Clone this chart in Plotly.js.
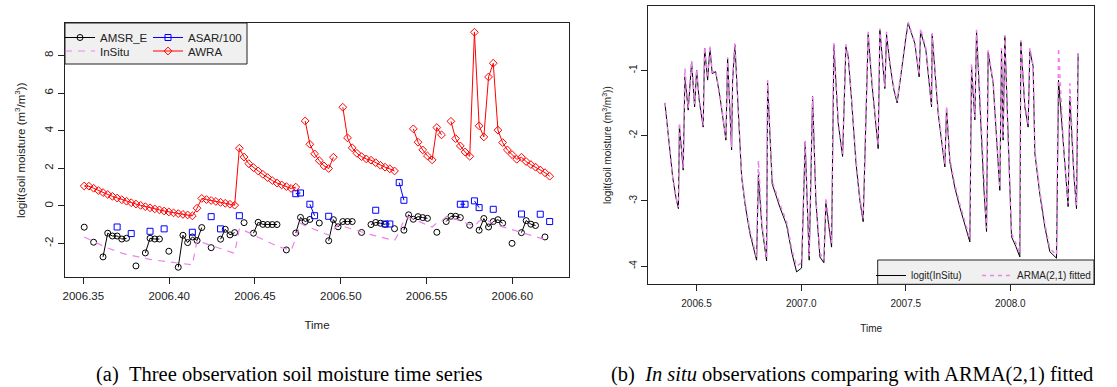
<!DOCTYPE html>
<html><head><meta charset="utf-8">
<script src="https://cdn.plot.ly/plotly-3.0.1.min.js"></script>
<style>html,body{margin:0;padding:0;background:#fff}#chart{width:1117px;height:387px}</style>
</head><body><div id="chart"></div>
<script>
// ---------- Panel (a): daily series, index = day since start ----------
const startA = 2006.3505, freqA = 365;
const dayIndex = Array.from({length:100}, (_, i) => i);
const amsrE = [-1.13,null,-1.93,null,-2.71,-1.45,-1.60,-1.60,-1.76,-1.72,
 null,-3.19,null,-2.5,-1.72,-1.76,-1.76,null,-2.41,null,
 -3.26,-1.56,-1.95,-1.65,-1.84,-1.15,null,-2.22,null,-1.77,
 -1.24,-1.54,-1.42,null,-0.89,null,-1.45,-0.87,-0.98,-0.99,
 -0.99,-0.99,null,-2.34,null,-1.44,-0.61,-0.83,-0.72,null,
 -0.91,null,-1.85,-0.73,-1.11,-0.83,-0.83,-0.83,null,-1.41,
 null,-0.99,-0.88,-0.92,-0.98,null,-1.21,null,-1.29,-0.47,
 -0.71,-0.57,-0.62,-0.66,null,-1.40,null,-0.83,-0.55,-0.55,
 -0.62,null,-1.03,null,-1.29,-0.67,-1.12,-0.83,-0.73,-0.92,
 null,-1.99,null,-1.42,-0.78,-0.97,-1.04,null,-1.65,null];
const inSitu = [-1.65,-1.78,-1.9,-2.02,-2.13,-2.24,-2.34,-2.43,-2.51,-2.58,
 -2.64,-2.7,-2.75,-2.8,-2.84,-2.88,-2.91,-2.94,-2.97,-3.0,
 -3.03,-3.06,-3.1,-3.13,-1.85,-1.93,-2.01,-2.1,-2.19,-2.28,
 -2.37,-2.45,-2.52,-1.2,-1.3,-1.42,-1.55,-1.67,-1.8,-1.92,
 -2.03,-2.13,-2.22,-2.3,-2.35,-1.75,-0.92,-1.05,-1.16,-1.26,
 -1.36,-1.45,-1.55,-1.3,-1.0,-1.08,-1.16,-1.24,-1.32,-1.4,
 -1.47,-1.53,-1.59,-1.65,-1.71,-1.77,-1.84,-1.4,-0.74,-0.6,
 -0.7,-0.8,-0.9,-1.0,-1.12,-0.9,-0.8,-0.57,-0.62,-0.7,
 -0.8,-0.9,-1.0,-1.08,-0.8,-0.74,-0.8,-0.95,-1.03,-1.11,
 -1.19,-1.27,-1.35,-1.43,-1.5,-1.58,-1.65,-1.72,-1.79,-1.85];
const asar100 = [null,null,null,null,null,null,null,-1.12,null,null,
 -1.47,null,null,null,-1.35,null,null,-1.22,null,null,
 null,null,null,-1.40,null,null,null,-0.57,null,-1.22,
 null,null,null,-0.52,null,null,null,null,null,null,
 null,null,null,null,null,0.65,0.69,null,0.09,-0.52,
 null,null,-0.55,null,null,null,null,null,null,null,
 null,null,-0.23,null,-0.96,-0.96,null,1.24,0.30,null,
 null,null,null,null,null,null,null,null,null,null,
 0.09,0.09,null,0.27,-0.09,null,null,-0.18,null,null,
 null,null,null,-0.43,null,null,null,-0.44,null,-0.83];
const awra = [1.06,1.05,0.94,0.82,0.71,0.61,0.51,0.42,0.33,0.25,
 0.17,0.10,0.03,-0.04,-0.10,-0.16,-0.21,-0.27,-0.32,-0.37,
 -0.41,-0.45,-0.48,-0.53,-0.12,0.40,0.34,0.29,0.24,0.19,
 0.14,0.09,0.04,3.07,2.6,2.25,2.04,1.86,1.68,1.51,
 1.35,1.22,1.12,1.03,0.93,1.0,null,4.52,3.28,2.77,
 2.41,2.13,1.99,2.59,null,5.25,3.62,3.09,2.80,2.62,
 2.50,2.43,2.30,2.16,2.06,1.97,1.86,null,null,null,
 4.10,3.39,2.98,2.66,2.45,4.17,3.78,null,4.5,3.58,
 3.19,2.87,2.64,9.24,4.26,3.67,6.86,7.59,4.03,3.37,
 2.98,2.73,2.48,2.59,2.36,2.2,2.06,1.91,1.77,1.58];
const tickValsA = [2006.35,2006.40,2006.45,2006.50,2006.55,2006.60];
const tickTextA = ["2006.35","2006.40","2006.45","2006.50","2006.55","2006.60"];
const yTickValsA = [-2,0,2,4,6,8];
const yTickTextA = ["-2","0","2","4","6","8"];

// ---------- Panel (b): in situ vs ARMA(2,1) fitted (vertices) ----------
const timeB = [2006.3485,2006.3676,2006.3853,2006.4011,2006.4130,2006.4178,2006.4359,2006.4441,2006.4598,2006.4761,
 2006.4904,2006.5000,2006.5124,2006.5315,2006.5382,2006.5526,2006.5636,2006.5746,2006.5908,2006.6114,
 2006.6401,2006.6482,2006.6673,2006.6721,2006.6831,2006.6974,2006.7151,2006.7309,2006.7548,2006.7868,
 2006.7954,2006.8121,2006.8346,2006.8394,2006.8614,2006.8982,2006.9302,2006.9555,2006.9780,2007.0019,
 2007.0191,2007.0382,2007.0545,2007.0703,2007.0894,2007.1085,2007.1181,2007.1453,2007.1563,2007.1769,
 2007.1979,2007.2137,2007.2247,2007.2409,2007.2615,2007.2806,2007.2964,2007.3203,2007.3380,2007.3681,
 2007.3762,2007.4001,2007.4082,2007.4240,2007.4431,2007.4589,2007.4847,2007.5005,2007.5115,2007.5292,
 2007.5435,2007.5641,2007.5707,2007.5961,2007.6233,2007.6262,2007.6549,2007.6869,2007.6950,2007.7108,
 2007.7347,2007.7586,2007.7825,2007.8064,2007.8145,2007.8303,2007.8384,2007.8542,2007.8733,2007.8862,
 2007.8939,2007.9178,2007.9498,2007.9579,2007.9656,2007.9737,2007.9881,2008.0057,2008.0263,2008.0454,
 2008.0502,2008.0693,2008.0851,2008.0932,2008.1090,2008.1171,2008.1410,2008.1649,2008.1888,2008.2208,
 2008.2304,2008.2558,2008.2763,2008.2845,2008.3036,2008.3164,2008.3241];
const logitInSitu = [-1.50,-2.1,-2.63,-2.95,-3.12,-1.85,-2.53,-1.10,-1.61,-0.87,
 -1.56,-1.0,-1.46,-1.87,-0.66,-1.15,-0.66,-1.05,-1.02,-1.4,
 -2.07,-0.82,-2.22,-1.15,-0.61,-1.5,-2.63,-3.04,-3.5,-3.91,
 -2.6,-3.4,-3.92,-1.2,-2.74,-3.1,-3.37,-3.8,-4.09,-4.03,
 -2.1,-3.91,-1.4,-3.0,-3.86,-3.95,-3.04,-3.71,-0.61,-1.81,
 -2.32,-0.64,-0.79,-1.46,-2.4,-3.0,-3.32,-0.45,-1.2,-2.2,
 -0.38,-1.28,-0.45,-0.9,-1.3,-1.5,-0.84,-0.5,-0.28,-0.45,
 -0.59,-1.1,-0.40,-0.69,-1.56,-0.45,-1.66,-2.48,-1.58,-2.4,
 -2.8,-3.1,-3.35,-3.63,-0.95,-1.76,-0.40,-1.5,-2.8,-3.47,
 -0.72,-1.2,-2.84,-0.70,-2.07,-0.48,-2.0,-3.55,-3.7,-3.86,
 -0.56,-1.56,-1.87,-0.70,-0.94,-2.27,-2.9,-3.4,-3.78,-3.88,
 -1.15,-2.3,-3.09,-1.40,-2.6,-3.12,-0.74];
const armaFitted = [-1.50,-2.1,-2.63,-2.95,-3.10,-1.80,-2.50,-0.97,-1.58,-0.85,
 -1.52,-0.98,-1.44,-1.85,-0.64,-1.12,-0.62,-1.03,-1.0,-1.38,
 -2.03,-0.80,-2.18,-1.12,-0.58,-1.48,-2.6,-3.0,-3.45,-3.86,
 -2.38,-3.35,-3.88,-1.15,-2.7,-3.05,-3.32,-3.75,-4.0,-3.95,
 -2.07,-3.85,-1.4,-2.95,-3.8,-3.9,-2.95,-3.65,-0.58,-1.78,
 -2.28,-0.6,-0.76,-1.42,-2.35,-2.95,-3.27,-0.41,-1.15,-2.15,
 -0.36,-1.25,-0.41,-0.88,-1.27,-1.47,-0.82,-0.48,-0.26,-0.43,
 -0.57,-1.07,-0.36,-0.66,-1.52,-0.43,-1.62,-2.44,-1.55,-2.35,
 -2.75,-3.05,-3.3,-3.58,-0.89,-1.72,-0.38,-1.46,-2.75,-3.42,
 -0.69,-1.17,-2.8,-0.66,-2.03,-0.46,-1.96,-3.5,-3.65,-3.8,
 -0.54,-1.52,-1.84,-0.66,-0.92,-2.23,-2.85,-3.35,-3.73,-3.83,
 -0.66,-2.25,-3.04,-1.20,-2.55,-3.07,-0.72];
const tickValsB = [2006.5,2007.0,2007.5,2008.0];
const tickTextB = ["2006.5","2007.0","2007.5","2008.0"];
const yTickValsB = [-4,-3,-2,-1];
const yTickTextB = ["-4","-3","-2","-1"];

// ---------- build ----------
const timeA = dayIndex.map(i => startA + i / freqA);
const W = 1117, H = 387;
const fx = p => p / W, fy = p => 1 - p / H;
const sans = "Liberation Sans, Arial, Helvetica, sans-serif";
const serif = "Liberation Serif, Times New Roman, serif";
const yTitle = "logit(soil moisture (m<sup>3</sup>/m<sup>3</sup>))";

const traces = [
 {x: timeA, y: amsrE, name: "AMSR_E", type: "scatter", mode: "lines+markers", connectgaps: false,
  line: {color: "black", width: 1}, marker: {symbol: "circle-open", size: 6, color: "black", line: {width: 1}},
  xaxis: "x", yaxis: "y", legend: "legend"},
 {x: timeA, y: inSitu, name: "InSitu", type: "scatter", mode: "lines",
  line: {color: "violet", width: 1.2, dash: "7px,6px"}, xaxis: "x", yaxis: "y", legend: "legend2"},
 {x: timeA, y: asar100, name: "ASAR/100", type: "scatter", mode: "lines+markers", connectgaps: false,
  line: {color: "blue", width: 1}, marker: {symbol: "square-open", size: 6, color: "blue", line: {width: 1}},
  xaxis: "x", yaxis: "y", legend: "legend3"},
 {x: timeA, y: awra, name: "AWRA", type: "scatter", mode: "lines+markers", connectgaps: false,
  line: {color: "red", width: 1}, marker: {symbol: "diamond-open", size: 6, color: "red", line: {width: 1}},
  xaxis: "x", yaxis: "y", legend: "legend4"},
 {x: timeB, y: logitInSitu, name: "logit(InSitu)", type: "scatter", mode: "lines",
  line: {color: "black", width: 1}, xaxis: "x2", yaxis: "y2", legend: "legend5"},
 {x: timeB, y: armaFitted, name: "ARMA(2,1) fitted", type: "scatter", mode: "lines",
  line: {color: "violet", width: 1.5, dash: "4px,4px"}, xaxis: "x2", yaxis: "y2", legend: "legend6"}
];

const axBase = {showgrid: false, zeroline: false, showline: true, mirror: true, linecolor: "#222", linewidth: 1,
  ticks: "outside", ticklen: 6, tickcolor: "#222", tickwidth: 1, automargin: false};

function leg(xp, yp, size) {
  return {x: fx(xp), y: fy(yp), xref: "container", yref: "container", xanchor: "left", yanchor: "top",
    bgcolor: "rgba(0,0,0,0)", borderwidth: 0, font: {size: size, family: sans, color: "#222"}, orientation: "v"};
}

const layout = {
 width: W, height: H, margin: {l: 0, r: 0, t: 0, b: 0, autoexpand: false}, paper_bgcolor: "white", plot_bgcolor: "white",
 font: {family: sans, color: "#222"},
 xaxis: Object.assign({}, axBase, {domain: [fx(65), fx(569)], range: [2006.3393, 2006.633], anchor: "y",
   tickmode: "array", tickvals: tickValsA, ticktext: tickTextA, tickfont: {size: 11.5, family: sans},
   ticklabelstandoff: 2,
   title: {text: "Time", font: {size: 11.5, family: sans}, standoff: 20}}),
 yaxis: Object.assign({}, axBase, {domain: [fy(277), fy(23)], range: [-3.78, 9.73], anchor: "x",
   tickmode: "array", tickvals: yTickValsA, ticktext: yTickTextA, tickangle: -90, tickfont: {size: 11.5, family: sans}}),
 xaxis2: Object.assign({}, axBase, {domain: [fx(648.3), fx(1094)], range: [2006.269, 2008.40], anchor: "y2",
   tickmode: "array", tickvals: tickValsB, ticktext: tickTextB, tickfont: {size: 10, family: sans},
   ticklabelstandoff: 4,
   title: {text: "Time", font: {size: 10, family: sans}, standoff: 16}}),
 yaxis2: Object.assign({}, axBase, {domain: [fy(284.3), fy(6)], range: [-4.28, -0.014], anchor: "x2",
   tickmode: "array", tickvals: yTickValsB, ticktext: yTickTextB, tickangle: -90, tickfont: {size: 10, family: sans},
   title: {text: yTitle, font: {size: 10, family: sans}, standoff: 14}}),
 showlegend: true,
 legend: leg(60, 23, 11.5),
 legend2: leg(60, 36.5, 11.5),
 legend3: leg(148, 23, 11.5),
 legend4: leg(148, 36.5, 11.5),
 legend5: leg(871, 261, 10),
 legend6: leg(977, 261, 10),
 shapes: [
  {type: "rect", xref: "paper", yref: "paper", x0: fx(65), x1: fx(247), y0: fy(64), y1: fy(23),
   fillcolor: "#f0f0f0", line: {color: "#222", width: 1}, layer: "above"},
  {type: "rect", xref: "paper", yref: "paper", x0: fx(877.7), x1: fx(1094), y0: fy(284.3), y1: fy(260),
   fillcolor: "#f0f0f0", line: {color: "#222", width: 1}, layer: "above"}
 ],
 annotations: [
  {xref: "paper", yref: "paper", x: fx(20), y: fy(150), textangle: -90, text: yTitle, showarrow: false,
   font: {size: 11.5, family: sans, color: "#222"}, xanchor: "center", yanchor: "middle"},
  {xref: "paper", yref: "paper", x: fx(289), y: fy(374), text: "(a)&nbsp;&nbsp;Three observation soil moisture time series",
   showarrow: false, font: {family: serif, size: 20.5, color: "black"}, xanchor: "center", yanchor: "middle"},
  {xref: "paper", yref: "paper", x: fx(852), y: fy(374), text: "(b)&nbsp;&nbsp;<i>In situ</i> observations comparing with ARMA(2,1) fitted",
   showarrow: false, font: {family: serif, size: 20.5, color: "black"}, xanchor: "center", yanchor: "middle"}
 ]
};
Plotly.newPlot("chart", traces, layout, {displayModeBar: false, staticPlot: true});
</script></body></html>
